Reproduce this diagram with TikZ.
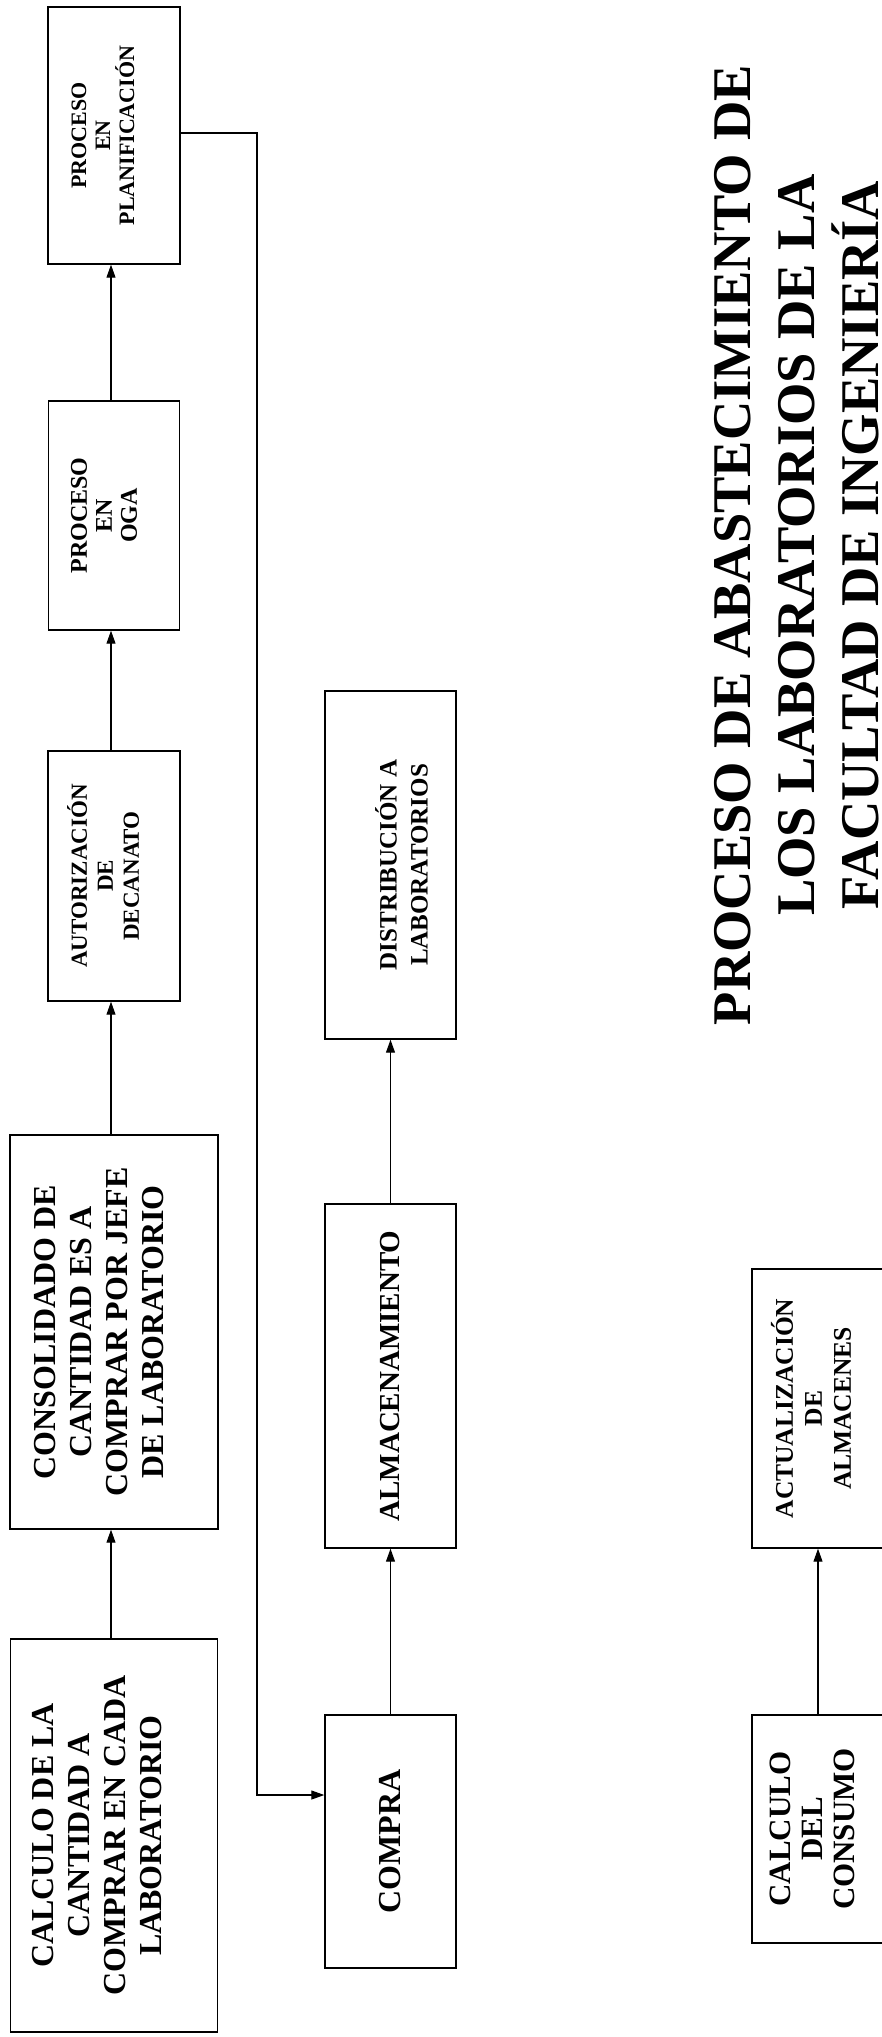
\documentclass[tikz,border=0pt]{standalone}
\usepackage{fontspec}
\setmainfont{Liberation Serif}
\usetikzlibrary{arrows.meta,calc}
\begin{document}
\begin{tikzpicture}[x=1pt,y=-1pt,
  box/.style={draw=black,line width=1.4pt,rectangle,inner sep=0pt},
  lbl/.style={rotate=90,align=center,inner sep=0pt},
  arr/.style={line width=1.1pt,-{Triangle[length=13pt,width=9pt]}}]
\useasboundingbox[fill=white] (0,0) rectangle (881,2037);
% column 1
\node[box,minimum width=132pt,minimum height=257pt] (planif) at (114,135.5) {};
\node[box,minimum width=131pt,minimum height=229pt] (oga) at (114,515.5) {};
\node[box,minimum width=132pt,minimum height=250pt] (autoriz) at (114,876) {};
\node[box,minimum width=208pt,minimum height=394pt] (consol) at (114,1332) {};
\node[box,minimum width=207pt,minimum height=393pt] (calcula) at (114,1835.5) {};
% column 2
\node[box,minimum width=131pt,minimum height=348pt] (distrib) at (390.5,865) {};
\node[box,minimum width=131pt,minimum height=344pt] (almac) at (390.5,1376) {};
\node[box,minimum width=131pt,minimum height=253pt] (compra) at (390.5,1841.5) {};
% column 3 (right side runs off the page)
\node[box,minimum width=132pt,minimum height=279pt] (actualiz) at (818,1408.5) {};
\node[box,minimum width=132pt,minimum height=228pt] (consumo) at (818,1829) {};
% labels
\node[lbl,font=\bfseries\fontsize{22}{24}\selectfont] (tplanif) at ([xshift=-11pt]planif.center) {PROCESO\\EN\\PLANIFICACIÓN};
\node[lbl,font=\bfseries\fontsize{24}{25}\selectfont] (toga) at ([xshift=-10pt]oga.center) {PROCESO\\EN\\OGA};
\node[lbl,font=\bfseries\fontsize{23}{26}\selectfont] (tautoriz) at ([xshift=-11pt]autoriz.center) {AUTORIZACIÓN\\DE\\DECANATO};
\node[lbl,font=\bfseries\fontsize{32}{36}\selectfont] (tconsol) at ([xshift=-15pt]consol.center) {CONSOLIDADO DE\\CANTIDAD ES A\\COMPRAR POR JEFE\\DE LABORATORIO};
\node[lbl,font=\bfseries\fontsize{32}{36}\selectfont] (tcalcula) at ([xshift=-17pt]calcula.center) {CALCULO DE LA\\CANTIDAD A\\COMPRAR EN CADA\\LABORATORIO};
\node[lbl,font=\bfseries\fontsize{25}{31}\selectfont] (tdistrib) at ([xshift=11pt]distrib.center) {DISTRIBUCIÓN A\\LABORATORIOS};
\node[lbl,font=\bfseries\fontsize{29}{31}\selectfont] (talmac) at (almac.center) {ALMACENAMIENTO};
\node[lbl,font=\bfseries\fontsize{32}{34}\selectfont] (tcompra) at (compra.center) {COMPRA};
\node[lbl,font=\bfseries\fontsize{25.5}{29}\selectfont] (tactualiz) at ([xshift=-7pt]actualiz.center) {ACTUALIZACIÓN\\DE\\ALMACENES};
\node[lbl,font=\bfseries\fontsize{31}{32}\selectfont] (tconsumo) at ([xshift=-6pt]consumo.center) {CALCULO\\DEL\\CONSUMO};
% title
\node[lbl,font=\bfseries\fontsize{54.5}{64}\selectfont] (title) at (797,545) {PROCESO DE ABASTECIMIENTO DE\\LOS LABORATORIOS DE LA\\FACULTAD DE INGENIERÍA};
% connectors
\draw[arr] ([xshift=-3pt]calcula.north) -- ([xshift=-3pt]consol.south);
\draw[arr] ([xshift=-3pt]consol.north) -- ([xshift=-3pt]autoriz.south);
\draw[arr] ([xshift=-3pt]autoriz.north) -- ([xshift=-3pt]oga.south);
\draw[arr] ([xshift=-3pt]oga.north) -- ([xshift=-3pt]planif.south);
\draw[arr] (compra) -- (almac);
\draw[arr] (almac) -- (distrib);
\draw[arr] (consumo) -- (actualiz);
\coordinate (fb1) at (257,133);
\coordinate (fb2) at (257,1795);
\draw[arr] (fb1 -| planif.east) -- (fb1) -- (fb2) -- (fb2 -| compra.west);
\end{tikzpicture}
\end{document}
